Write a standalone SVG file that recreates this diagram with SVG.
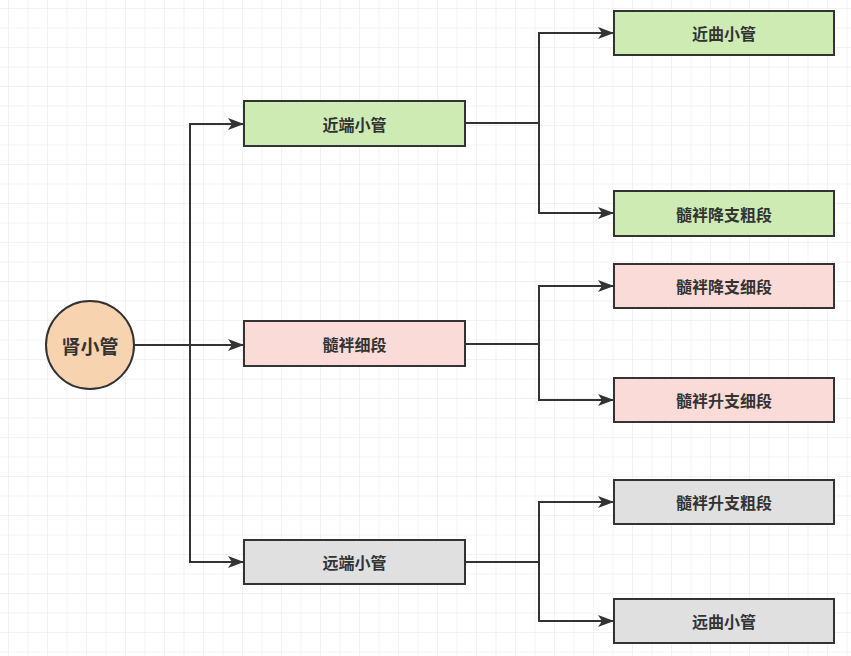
<svg xmlns="http://www.w3.org/2000/svg" width="851" height="656" viewBox="0 0 851 656">
<defs>
<pattern id="grid" width="19.5" height="19.5" patternUnits="userSpaceOnUse" x="9" y="9">
<path d="M19.5 0V19.5M0 19.5H19.5" fill="none" stroke="#e6e6e6" stroke-width="1"/>
</pattern>
<marker id="arr" markerWidth="16" markerHeight="12" refX="15" refY="6" orient="auto" markerUnits="userSpaceOnUse" viewBox="0 0 16 12">
<path d="M0 0L16 6L0 12L4 6Z" fill="#333"/>
</marker>
</defs>
<style>
.b{stroke:#333;stroke-width:2}
.g{fill:#cdebb2}.p{fill:#fadbd8}.y{fill:#e0e0e0}
text{font-family:"Noto Sans CJK SC",sans-serif;font-size:16px;font-weight:bold;fill:#333;text-anchor:middle;dominant-baseline:central}
.c path{fill:none;stroke:#333;stroke-width:2}
</style>
<rect width="851" height="656" fill="#fff"/>
<rect width="851" height="656" fill="url(#grid)"/>
<g class="c">
<path d="M134 345H243" marker-end="url(#arr)"/>
<path d="M190 345V124H243" marker-end="url(#arr)"/>
<path d="M190 345V562H243" marker-end="url(#arr)"/>
<path d="M465 123H539V33H613" marker-end="url(#arr)"/>
<path d="M539 123V213H613" marker-end="url(#arr)"/>
<path d="M465 344H539V286H613" marker-end="url(#arr)"/>
<path d="M539 344V400H613" marker-end="url(#arr)"/>
<path d="M465 562H539V502H613" marker-end="url(#arr)"/>
<path d="M539 562V621H613" marker-end="url(#arr)"/>
</g>
<g id="root"><circle class="b" cx="90" cy="345" r="44" fill="#f8d3b0"/><text x="90" y="345" style="font-size:19px">肾小管</text></g>
<g id="n1"><rect class="b g" x="244" y="101" width="221" height="45"/><text x="354.5" y="123.5">近端小管</text></g>
<g id="n2"><rect class="b p" x="244" y="321" width="221" height="45"/><text x="354.5" y="343.5">髓袢细段</text></g>
<g id="n3"><rect class="b y" x="244" y="540" width="221" height="44"/><text x="354.5" y="562">远端小管</text></g>
<g id="n11"><rect class="b g" x="614" y="11" width="220" height="44"/><text x="724" y="33">近曲小管</text></g>
<g id="n12"><rect class="b g" x="614" y="191" width="220" height="45"/><text x="724" y="213.5">髓袢降支粗段</text></g>
<g id="n21"><rect class="b p" x="614" y="264" width="220" height="44"/><text x="724" y="286">髓袢降支细段</text></g>
<g id="n22"><rect class="b p" x="614" y="378" width="220" height="44"/><text x="724" y="400">髓袢升支细段</text></g>
<g id="n31"><rect class="b y" x="614" y="480" width="220" height="44"/><text x="724" y="502">髓袢升支粗段</text></g>
<g id="n32"><rect class="b y" x="614" y="599" width="220" height="44"/><text x="724" y="621">远曲小管</text></g>
</svg>
